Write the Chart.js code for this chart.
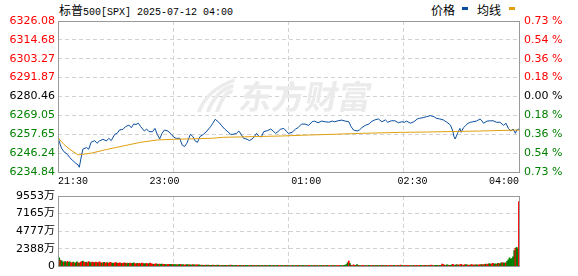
<!DOCTYPE html>
<html>
<head>
<meta charset="utf-8">
<script src="https://cdn.jsdelivr.net/npm/chart.js@4.4.1/dist/chart.umd.min.js"></script>
<style>
body { margin:0; width:578px; height:276px; background:#fff; position:relative; overflow:hidden; }
canvas { position:absolute; left:0; }
#price { top:0; }
#vol { top:186px; }
.txt { position:absolute; white-space:nowrap; color:#000; }
#title { left:59px; top:1px; font:10px "Liberation Mono", monospace; line-height:16px; }
#title .cn, #legend .cn { font:12px "Noto Sans CJK SC", sans-serif; }
#legend { left:431px; top:1px; line-height:16px; }
.mark { display:inline-block; width:6px; height:3px; vertical-align:top; margin-top:6px; }
</style>
</head>
<body>
<div class="txt" id="title"><span class="cn">标普</span>500[SPX] 2025-07-12 04:00</div>
<div class="txt" id="legend"><span class="cn">价格</span><span class="mark" style="background:#0a4ea0;margin-left:7px;margin-right:9px"></span><span class="cn">均线</span><span class="mark" style="background:#e0a010;margin-left:8px"></span></div>
<canvas id="price" width="578" height="190"></canvas>
<canvas id="vol" width="578" height="90"></canvas>
<script>
// previous close, 0.00 % line
const prevClose = 6280.46;

const priceTicks = [6234.84, 6246.24, 6257.65, 6269.05, 6280.46, 6291.87, 6303.27, 6314.68, 6326.08];
const pctLabels = ['0.73 %', '0.54 %', '0.36 %', '0.18 %', '0.00 %', '0.18 %', '0.36 %', '0.54 %', '0.73 %'];

// minutes since 21:30
const timeTicks = [0, 90, 210, 300, 390];
const timeLabels = ['21:30', '23:00', '01:00', '02:30', '04:00'];
const gridTimes = [0, 97.5, 195, 292.5, 390];

const priceTimes = [0, 2, 3, 5, 8, 10, 12, 15, 17, 18, 20, 21, 24, 26, 28, 31, 33, 35, 38, 41,
  43, 45, 48, 50, 52, 55, 57, 60, 62, 64, 66, 68, 70, 73, 75, 77, 80, 82, 84, 86,
  88, 90, 93, 96, 98, 100, 103, 105, 107, 109, 112, 114, 116, 118, 120, 123, 126, 129, 131, 133,
  136, 138, 141, 143, 146, 148, 151, 153, 155, 157, 160, 162, 165, 168, 170, 172, 174, 177, 180, 182,
  184, 186, 188, 191, 193, 195, 198, 201, 203, 206, 209, 212, 215, 217, 220, 223, 226, 229, 232, 234,
  237, 240, 243, 246, 248, 250, 253, 255, 257, 260, 263, 265, 268, 271, 274, 277, 279, 282, 285, 288,
  291, 293, 295, 298, 301, 304, 306, 309, 312, 315, 318, 320, 323, 326, 329, 332, 334, 335, 336, 338,
  340, 341, 343, 345, 347, 349, 351, 354, 357, 358, 360, 363, 366, 368, 371, 374, 377, 379, 381, 383,
  385, 387, 388, 390];
const prices = [6255.6, 6251.2, 6249.2, 6247.1, 6245.5, 6243.5, 6242.1, 6240.1, 6239.1, 6237.7,
  6245.1, 6248.6, 6249.6, 6248.6, 6252.8, 6253.8, 6252.2, 6253.6, 6254.6, 6253.6,
  6255.2, 6253.8, 6257.6, 6258.2, 6260.2, 6260.6, 6262.2, 6263.2, 6261.6, 6263.8,
  6263.6, 6264.3, 6262.2, 6259.6, 6260.8, 6259.2, 6259.2, 6261.2, 6257.6, 6254.8,
  6258.2, 6260.2, 6259.6, 6257.6, 6255.8, 6255.2, 6255.2, 6251.2, 6250.2, 6252.2,
  6257.6, 6256.4, 6253.6, 6252.8, 6256.2, 6257.6, 6259.6, 6262.2, 6264.3, 6266.7,
  6264.9, 6263.2, 6260.8, 6259.6, 6257.6, 6257.6, 6258.2, 6259.6, 6257.6, 6255.2,
  6254.6, 6253.8, 6255.2, 6258.2, 6256.4, 6256.0, 6259.2, 6259.8, 6260.8, 6259.6,
  6258.2, 6259.2, 6260.6, 6261.2, 6259.6, 6258.2, 6258.8, 6260.8, 6261.6, 6263.8,
  6263.8, 6263.0, 6265.2, 6265.6, 6264.6, 6265.6, 6265.2, 6264.9, 6265.6, 6265.2,
  6265.8, 6266.2, 6265.6, 6265.2, 6262.2, 6260.2, 6259.6, 6260.2, 6261.6, 6263.0,
  6263.8, 6265.2, 6266.3, 6266.9, 6265.2, 6266.3, 6264.9, 6265.8, 6265.8, 6264.6,
  6265.2, 6264.9, 6265.6, 6264.3, 6265.2, 6266.9, 6267.3, 6267.7, 6268.3, 6268.9,
  6268.3, 6267.3, 6266.9, 6266.3, 6264.9, 6263.2, 6259.6, 6256.2, 6254.8, 6258.2,
  6261.2, 6258.8, 6261.6, 6263.0, 6264.3, 6264.9, 6265.2, 6265.6, 6266.9, 6266.3,
  6264.3, 6265.6, 6265.8, 6265.8, 6264.9, 6264.9, 6263.0, 6264.3, 6261.2, 6259.6,
  6260.8, 6258.2, 6260.2, 6260.8];

const avgTimes = [0, 5, 10, 17, 28, 42, 56, 70, 84, 98, 130, 140, 189, 213, 232, 257, 290, 312, 357, 390];
const avgPrices = [6255.6, 6251.5, 6248.5, 6245.2, 6246.2, 6248.6, 6250.7, 6252.8, 6254.2, 6254.6,
  6255.2, 6255.8, 6256.6, 6257.2, 6257.6, 6258.2, 6258.8, 6259.0, 6259.6, 6260.2];

// volume per minute, in 万
const volTicks = [0, 2388, 4777, 7165, 9553];
const volumes = [
  5950, 1150, 820, 760, 620, 580, 640, 520, 700, 560,
  610, 480, 530, 590, 450, 500, 620, 470, 430, 560,
  640, 720, 600, 520, 580, 500, 650, 560, 490, 590,
  540, 470, 580, 520, 480, 620, 530, 460, 500, 560,
  460, 520, 480, 420, 560, 500, 450, 400, 470, 530,
  440, 420, 490, 460, 390, 430, 500, 400, 440, 380,
  420, 460, 370, 400, 480, 390, 350, 430, 380, 400,
  360, 440, 390, 340, 380, 420, 330, 370, 460, 350,
  330, 280, 310, 350, 300, 260, 320, 280, 330, 250,
  280, 260, 230, 290, 250, 270, 240, 280, 220, 260,
  230, 250, 200, 270, 240, 210, 260, 190, 220, 250,
  200, 230, 210, 180, 240, 220, 190, 210, 230, 200,
  170, 140, 180, 160, 150, 190, 130, 170, 150, 160,
  140, 180, 150, 130, 160, 170, 140, 150, 120, 160,
  150, 130, 160, 140, 120, 150, 170, 130, 140, 120,
  150, 130, 110, 140, 160, 120, 130, 150, 120, 140,
  130, 110, 140, 120, 150, 130, 110, 120, 140, 100,
  130, 120, 110, 140, 120, 100, 130, 110, 120, 140,
  110, 120, 100, 130, 110, 120, 140, 100, 110, 130,
  120, 100, 110, 120, 130, 100, 110, 120, 100, 130,
  110, 100, 120, 130, 100, 110, 120, 140, 100, 110,
  120, 100, 130, 110, 100, 120, 110, 130, 100, 110,
  120, 100, 110, 130, 100, 120, 110, 100, 130, 110,
  120, 100, 110, 140, 100, 120, 110, 100, 120, 130,
  110, 120, 150, 180, 260, 480, 720, 380, 160, 120,
  230, 140, 110, 260, 130, 110, 120, 100, 140, 110,
  120, 100, 110, 130, 120, 100, 110, 160, 120, 100,
  130, 110, 120, 100, 140, 110, 120, 130, 100, 110,
  120, 100, 130, 110, 150, 120, 100, 110, 140, 120,
  180, 110, 100, 130, 120, 110, 150, 120, 100, 110,
  120, 130, 110, 140, 120, 100, 130, 150, 110, 120,
  140, 130, 110, 120, 150, 130, 180, 120, 110, 140,
  130, 150, 120, 140, 160, 300, 260, 180, 150, 200,
  170, 130, 160, 220, 280, 180, 150, 260, 200, 170,
  210, 280, 190, 160, 250, 200, 230, 180, 160, 200,
  240, 170, 190, 210, 230, 180, 200, 220, 260, 240,
  220, 280, 320, 250, 300, 380, 260, 340, 420, 300,
  360, 280, 430, 380, 350, 470, 520, 440, 460, 500,
  700, 900, 1160, 1000, 1050, 1290, 2150, 2450, 2580, 2400,
  8800];
// u = minute closed up (red), d = down (green)
const volDir = (
  'ddudd uddud duudu ddudu uduud uuddu uduud uudud ' +
  'uuduu udduu duuud uudud duudd uuduu duudd uuduu ' +
  'uduud duddu udduu ddudd duddu dduud duddu dduud ' +
  'ddudd uddud duddu ddudd uddud duddu dduud dudud ' +
  'ddudd uddud duddu ddudd duddu dduud duddu ddudd ' +
  'uddud duddu dduud dudud duddu duddu uddud duuud ' +
  'duddd dudud uuddu dduuu ddudd uudud duddu ddudu ' +
  'uduud duudu udduu duudd uduud uuddu uduud uudud ' +
  'ddudd uudud duddu uddud uuduu dduud uudud duudu ' +
  'duduu dduud dudud duddu ddddd ddudd uuuu'
).replace(/ /g, '');

function tickColor(ctx) {
  const v = ctx.tick.value;
  if (v > prevClose + 0.005) return '#ff0000';
  if (v < prevClose - 0.005) return '#008000';
  return '#000';
}

const gridColor = '#d2d2d2';
const gridDash = [4, 3];
const labelFont = { family: '"DejaVu Sans", "Noto Sans CJK SC", sans-serif', size: 11 };

const frame = {
  id: 'frame',
  afterDraw(chart) {
    const a = chart.chartArea, c = chart.ctx;
    c.save();
    c.strokeStyle = '#999';
    c.lineWidth = 1;
    c.strokeRect(Math.round(a.left) + 0.5, Math.round(a.top) + 0.5, Math.round(a.right - a.left), Math.round(a.bottom - a.top));
    c.restore();
  }
};

const watermark = {
  id: 'watermark',
  beforeDatasetsDraw(chart) {
    const c = chart.ctx;
    c.save();
    c.fillStyle = '#ebebeb';
    c.strokeStyle = '#ebebeb';
    c.transform(1, 0, -0.18, 1, 17, 0);
    c.font = 'bold 33px "Noto Sans CJK SC", sans-serif';
    c.textBaseline = 'middle';
    c.fillText('东方财富', 240, 96);
    c.lineWidth = 4;
    for (let k = 0; k < 3; k++) {
      c.beginPath();
      c.moveTo(202 + k * 9, 112);
      c.quadraticCurveTo(206 + k * 9, 90, 232, 80 + k * 6);
      c.stroke();
    }
    c.restore();
  }
};

new Chart(document.getElementById('price'), {
  type: 'line',
  data: {
    datasets: [
      { data: avgTimes.map((t, i) => ({ x: t, y: avgPrices[i] })), borderColor: '#e0a010', borderWidth: 1, pointRadius: 0 },
      { data: priceTimes.map((t, i) => ({ x: t, y: prices[i] })), borderColor: '#0a4ea0', borderWidth: 1, pointRadius: 0 }
    ]
  },
  options: {
    responsive: false,
    animation: false,
    events: [],
    layout: { padding: { top: 21 } },
    plugins: { legend: { display: false }, tooltip: { enabled: false } },
    scales: {
      x: {
        type: 'linear', min: 0, max: 390,
        afterBuildTicks: s => { s.ticks = timeTicks.map(v => ({ value: v })); },
        afterFit: s => { s.height = 18; },
        ticks: { callback: (v, i) => timeLabels[i], align: 'inner', maxRotation: 0, autoSkip: false, padding: 3, color: '#000', font: { family: '"Liberation Mono", monospace', size: 10 } },
        grid: { display: false, drawTicks: false },
        border: { display: false }
      },
      xg: {
        type: 'linear', position: 'top', min: 0, max: 390,
        afterBuildTicks: s => { s.ticks = gridTimes.map(v => ({ value: v })); },
        afterFit: s => { s.height = 0; },
        ticks: { display: false },
        grid: { color: gridColor, drawTicks: false },
        border: { display: false, dash: gridDash }
      },
      y: {
        position: 'left', min: priceTicks[0], max: priceTicks[priceTicks.length - 1],
        afterBuildTicks: s => { s.ticks = priceTicks.map(v => ({ value: v })); },
        afterFit: s => { s.width = 58; },
        ticks: { callback: v => v.toFixed(2), color: tickColor, font: labelFont, padding: 3, autoSkip: false },
        grid: { color: gridColor, drawTicks: false },
        border: { display: false, dash: gridDash }
      },
      y2: {
        position: 'right', min: priceTicks[0], max: priceTicks[priceTicks.length - 1],
        afterBuildTicks: s => { s.ticks = priceTicks.map(v => ({ value: v })); },
        afterFit: s => { s.width = 59; },
        ticks: { callback: (v, i) => pctLabels[i], color: tickColor, font: labelFont, padding: 5, autoSkip: false },
        grid: { display: false, drawTicks: false },
        border: { display: false }
      }
    }
  },
  plugins: [watermark, frame]
});

new Chart(document.getElementById('vol'), {
  type: 'bar',
  data: {
    datasets: [{
      data: volumes.map((v, i) => ({ x: i, y: v })),
      backgroundColor: volumes.map((v, i) => volDir[i] === 'u' ? '#ff0000' : '#008000'),
      barPercentage: 1,
      categoryPercentage: 1
    }]
  },
  options: {
    responsive: false,
    animation: false,
    events: [],
    layout: { padding: { top: 10, right: 59, bottom: 6 } },
    plugins: { legend: { display: false }, tooltip: { enabled: false } },
    scales: {
      x: {
        type: 'linear', min: 0, max: 390, offset: false,
        afterBuildTicks: s => { s.ticks = gridTimes.map(v => ({ value: v })); },
        afterFit: s => { s.height = 0; },
        ticks: { display: false },
        grid: { color: gridColor, drawTicks: false, offset: false },
        border: { display: false, dash: gridDash }
      },
      y: {
        position: 'left', min: 0, max: volTicks[volTicks.length - 1],
        afterBuildTicks: s => { s.ticks = volTicks.map(v => ({ value: v })); },
        afterFit: s => { s.width = 58; },
        ticks: { callback: v => v ? v + '万' : '0', color: '#000', font: labelFont, padding: 3, autoSkip: false },
        grid: { color: gridColor, drawTicks: false },
        border: { display: false, dash: gridDash }
      }
    }
  },
  plugins: [frame]
});
</script>
</body>
</html>
